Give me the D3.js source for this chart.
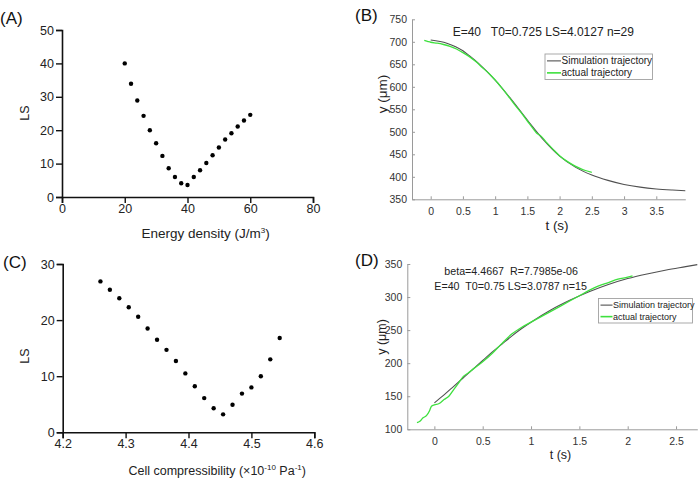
<!DOCTYPE html>
<html><head><meta charset="utf-8">
<script src="https://cdn.jsdelivr.net/npm/d3@7"></script>
<style>body{margin:0;background:#fff}svg{display:block}text{font-family:"Liberation Sans",Arial,sans-serif}</style>
</head><body>
<svg id="c" width="700" height="486"></svg>
<script>
// Panel A: LS vs energy density
const energyA = [20,22,24,26,28,30,32,34,36,38,40,42,44,46,48,50,52,54,56,58,60];
const lsA = [40,33.9,28.9,24.3,20,16.1,12.3,8.6,6,4.1,3.6,6,8,10.2,12.5,14.8,17.2,19.1,21.1,22.9,24.6];
const ticksAX = [0,20,40,60,80];
const ticksAY = [0,10,20,30,40,50];
// Panel C: LS vs cell compressibility
const compC = [4.26,4.275,4.29,4.305,4.32,4.335,4.35,4.365,4.38,4.395,4.41,4.425,4.44,4.455,4.47,4.485,4.5,4.515,4.53,4.545];
const lsC = [26.9,25.4,23.9,22.3,20.6,18.5,16.5,14.7,12.7,10.5,8.2,6.1,4.3,3.2,4.9,6.9,8.0,10.0,13.0,16.8];
const ticksCX = [4.2,4.3,4.4,4.5,4.6];
const ticksCY = [0,10,20,30];
// Panel B: trajectories
const simBt = [0,0.25,0.5,0.6,0.75,1.0,1.25,1.5,1.75,2.0,2.25,2.5,2.75,3.0,3.25,3.5,3.75,3.95];
const simBy = [704,697,680,669,651,615,572,526,482,446,421,404,392,383,377,373,370.5,369];
const actBt = [-0.1,-0.05,0,0.1,0.2,0.3,0.4,0.5,0.6,0.7,0.8,0.9,1.0,1.1,1.2,1.3,1.4,1.5,1.6,1.65,1.7,1.8,1.9,2.0,2.1,2.2,2.3,2.4,2.5];
const actBy = [703,701,699,697,694,690,684,676,667,656,643,630,615,598,580,561,543,524,505,496,492,476,461,447,436,427,420,414,410];
const ticksBX = [0,0.5,1,1.5,2,2.5,3,3.5];
const ticksBY = [350,400,450,500,550,600,650,700,750];
// Panel D: trajectories
const simDt = [0,0.1,0.2,0.3,0.4,0.5,0.6,0.7,0.8,0.9,1.0,1.2,1.4,1.6,1.8,2.0,2.2,2.4,2.6,2.72];
const simDy = [140,152,165,178,191,204,217,229,241,252,262,280,295,308,319,328,335,341,346,349];
const actDt = [-0.18,-0.15,-0.12,-0.08,-0.05,-0.03,0,0.05,0.1,0.15,0.2,0.25,0.3,0.35,0.4,0.5,0.6,0.7,0.8,0.9,1.0,1.1,1.2,1.3,1.4,1.5,1.6,1.7,1.8,1.9,2.0,2.05];
const actDy = [110,112,117,121,128,135,137,139,145,150,160,170,180,185,191,202,215,230,244,254,262,270,278,286,294,302,310,317,322,327,330,332];
const ticksDX = [0,0.5,1,1.5,2,2.5];
const ticksDY = [100,150,200,250,300,350];
const legendLabels = ["Simulation trajectory","actual trajectory"];
const panelLabels = ["(A)","(B)","(C)","(D)"];

const svg = d3.select("#c");
const zip = (a,b)=>a.map((v,i)=>[v,b[i]]);

function scatterPanel(o){
  const x = d3.scaleLinear().domain(o.xd).range(o.xr);
  const y = d3.scaleLinear().domain(o.yd).range(o.yr);
  const g = svg.append("g");
  const ax = g.append("g").attr("transform",`translate(0,${o.yr[0]})`)
    .call(d3.axisBottom(x).tickValues(o.xt).tickSize(6).tickPadding(1).tickFormat(d3.format(o.xf||"")));
  const ay = g.append("g").attr("transform",`translate(${o.xr[0]},0)`)
    .call(d3.axisLeft(y).tickValues(o.yt).tickSize(6).tickPadding(2));
  [ax,ay].forEach(a=>{
    a.select(".domain").attr("stroke","#111").attr("stroke-width",1.6);
    a.selectAll(".tick line").attr("stroke","#111").attr("stroke-width",1.4);
    a.selectAll(".tick text").attr("font-size",12.5).attr("fill","#222").attr("font-family","Liberation Sans, Arial, sans-serif");
  });
  g.selectAll("circle.pt").data(zip(o.xs,o.ys)).join("circle").attr("class","pt")
    .attr("cx",d=>x(d[0])).attr("cy",d=>y(d[1])).attr("r",2.2).attr("fill","#000");
  return g;
}

const gA = scatterPanel({xd:[0,80],xr:[62,313],yd:[0,50],yr:[197,30],xt:ticksAX,yt:ticksAY,xs:energyA,ys:lsA});
const tA = gA.append("text").attr("x",141.5).attr("y",238).attr("font-size",13.5).attr("fill","#222");
tA.append("tspan").text("Energy density  (J/m");
tA.append("tspan").attr("font-size",8).attr("dy",-5).text("3");
tA.append("tspan").attr("dy",5).text(")");
gA.append("text").attr("transform","translate(29,113) rotate(-90)").attr("text-anchor","middle")
  .attr("font-size",12.5).attr("fill","#222").text("LS");

const gC = scatterPanel({xd:[4.2,4.6],xr:[62.7,314.3],yd:[0,30],yr:[432.3,264],xt:ticksCX,yt:ticksCY,xs:compC,ys:lsC,xf:".1f"});
const tC = gC.append("text").attr("x",128.5).attr("y",475).attr("font-size",12.5).attr("fill","#222");
tC.append("tspan").text("Cell compressibility (×10");
tC.append("tspan").attr("font-size",8).attr("dy",-5).text("-10");
tC.append("tspan").attr("dy",5).text(" Pa");
tC.append("tspan").attr("font-size",8).attr("dy",-5).text("-1");
tC.append("tspan").attr("dy",5).text(")");
gC.append("text").attr("transform","translate(29,356) rotate(-90)").attr("text-anchor","middle")
  .attr("font-size",12.5).attr("fill","#222").text("LS");

function trajPanel(o){
  const x = d3.scaleLinear().domain(o.xd).range(o.xr);
  const y = d3.scaleLinear().domain(o.yd).range(o.yr);
  const g = svg.append("g");
  const ax = g.append("g").attr("transform",`translate(0,${o.yr[0]})`)
    .call(d3.axisBottom(x).tickValues(o.xt).tickSizeInner(-3).tickSizeOuter(0).tickPadding(8).tickFormat(d=>String(d)));
  const ay = g.append("g").attr("transform",`translate(${o.xr[0]},0)`)
    .call(d3.axisLeft(y).tickValues(o.yt).tickSizeInner(-3).tickSizeOuter(0).tickPadding(5));
  [ax,ay].forEach(a=>{
    a.select(".domain").attr("stroke","#9a9a9a").attr("stroke-width",1);
    a.selectAll(".tick line").attr("stroke","#9a9a9a");
    a.selectAll(".tick text").attr("font-size",10.5).attr("fill","#333").attr("font-family","Liberation Sans, Arial, sans-serif");
  });
  const line = d3.line().x(d=>x(d[0])).y(d=>y(d[1])).curve(d3.curveMonotoneX);
  g.append("path").datum(zip(o.st,o.sy)).attr("d",line).attr("fill","none").attr("stroke","#505050").attr("stroke-width",1.1);
  g.append("path").datum(zip(o.at,o.ay)).attr("d",line).attr("fill","none").attr("stroke","#3ee03e").attr("stroke-width",1.3);
  // legend
  const L = o.leg;
  g.append("rect").attr("x",L.x).attr("y",L.y).attr("width",L.w).attr("height",L.h)
    .attr("fill","#fff").attr("stroke","#a0a0a0").attr("stroke-width",0.9);
  const colors = ["#505050","#3ee03e"];
  legendLabels.forEach((lab,i)=>{
    const yy = L.y + L.h*0.27 + i*L.h*0.47;
    g.append("line").attr("x1",L.x+2).attr("x2",L.x+L.ls).attr("y1",yy).attr("y2",yy)
      .attr("stroke",colors[i]).attr("stroke-width",i?1.6:1.1);
    g.append("text").attr("x",L.x+L.ls+0.5).attr("y",yy+L.fs*0.36).attr("font-size",L.fs).attr("fill","#222").text(lab);
  });
  g.append("text").attr("transform",`translate(${o.ylab[0]},${o.ylab[1]}) rotate(-90)`).attr("text-anchor","middle")
    .attr("font-size",o.labfs).attr("fill","#222").text("y (μm)");
  g.append("text").attr("x",o.xlab[0]).attr("y",o.xlab[1]).attr("text-anchor","middle")
    .attr("font-size",o.labfs).attr("fill","#222").text("t (s)");
  o.notes.forEach(n=>{
    g.append("text").attr("x",n[0]).attr("y",n[1]).attr("font-size",n[2]).attr("fill","#222")
      .attr("xml:space","preserve").style("white-space","pre").text(n[3]);
  });
  return g;
}

trajPanel({xd:[-0.29,3.95],xr:[412,685.3],yd:[350,750],yr:[199.3,19.3],xt:ticksBX,yt:ticksBY,
  st:simBt,sy:simBy,at:actBt,ay:actBy,
  leg:{x:545,y:54,w:107.5,h:25.5,ls:16,fs:10},ylab:[387,94],xlab:[557,230],labfs:13.5,
  notes:[[452.7,36,12,"E=40   T0=0.725 LS=4.0127 n=29"]]});

trajPanel({xd:[-0.28,2.72],xr:[407.3,697.3],yd:[100,350],yr:[429.3,264],xt:ticksDX,yt:ticksDY,
  st:simDt,sy:simDy,at:actDt,ay:actDy,
  leg:{x:598.5,y:298.5,w:94,h:24.5,ls:14,fs:9},ylab:[386,337],xlab:[560.5,459],labfs:12.5,
  notes:[[444.3,274.5,10.7,"beta=4.4667  R=7.7985e-06"],[434.3,290,10.7,"E=40  T0=0.75 LS=3.0787 n=15"]]});

const plPos = [[0,24],[355,21],[3,268],[355,266]];
panelLabels.forEach((t,i)=>{
  svg.append("text").attr("x",plPos[i][0]).attr("y",plPos[i][1]).attr("font-family","Liberation Serif, Times New Roman, serif")
    .attr("font-size",17).attr("fill","#111").text(t);
});
</script>
</body></html>
